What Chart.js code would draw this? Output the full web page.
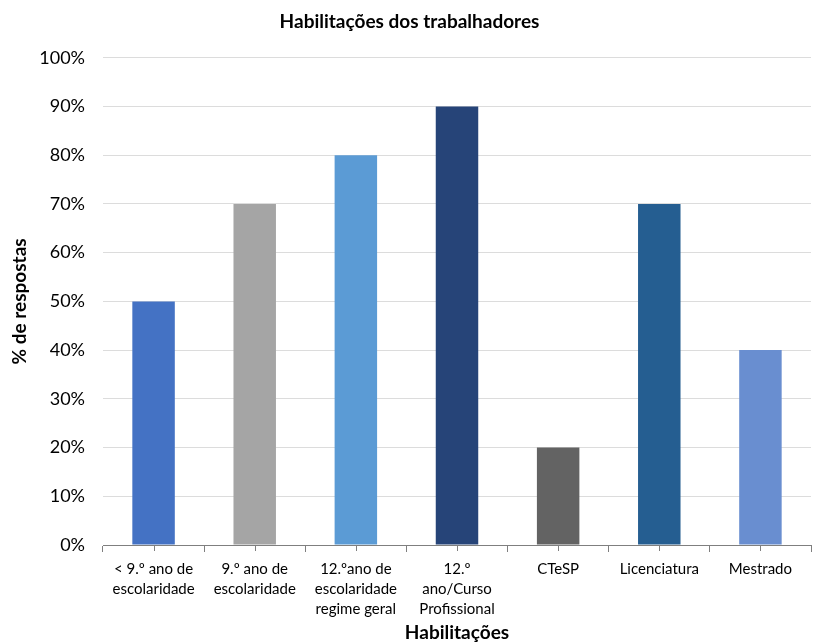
<!DOCTYPE html>
<html>
<head>
<meta charset="utf-8">
<script src="https://cdn.jsdelivr.net/npm/chart.js@4/dist/chart.umd.min.js"></script>
<style>
  html, body { margin: 0; padding: 0; background: #ffffff; }
  #wrap { width: 815px; height: 644px; position: relative; }
</style>
</head>
<body>
<div id="wrap"><canvas id="c" width="815" height="644"></canvas></div>
<script>
// Qualification levels (multi-line labels)
const categories = [
  ["< 9.º ano de", "escolaridade"],
  ["9.º ano de", "escolaridade"],
  ["12.ºano de", "escolaridade", "regime geral"],
  ["12.º", "ano/Curso", "Profissional"],
  ["CTeSP"],
  ["Licenciatura"],
  ["Mestrado"]
];
// Share of answers per level (%)
const values = [50, 70, 80, 90, 20, 70, 40];
const barColors = ["#4472C4", "#A5A5A5", "#5B9BD5", "#264478", "#636363", "#255E91", "#698ED0"];
const yTicks = [0, 10, 20, 30, 40, 50, 60, 70, 80, 90, 100];

const FONT = "Lato, 'Open Sans', 'Liberation Sans', sans-serif";

// Small tick marks under the centre of every category
const centreTicks = {
  id: 'centreTicks',
  afterDraw(chart) {
    const x = chart.scales.x;
    const ctx = chart.ctx;
    ctx.save();
    ctx.strokeStyle = '#7f7f7f';
    ctx.lineWidth = 1;
    for (let i = 0; i < categories.length; i++) {
      const px = Math.round(x.getPixelForValue(i)) + 0.5;
      ctx.beginPath();
      ctx.moveTo(px, x.top);
      ctx.lineTo(px, x.top + 6);
      ctx.stroke();
    }
    ctx.restore();
  }
};

new Chart(document.getElementById('c'), {
  type: 'bar',
  data: {
    labels: categories,
    datasets: [{
      data: values,
      backgroundColor: barColors,
      borderWidth: 0,
      categoryPercentage: 1.0,
      barPercentage: 0.42
    }]
  },
  options: {
    responsive: false,
    animation: false,
    devicePixelRatio: 1,
    layout: { padding: { left: 8, right: 4, top: 0, bottom: 0 } },
    plugins: {
      legend: { display: false },
      tooltip: { enabled: false },
      title: {
        display: true,
        text: 'Habilitações dos trabalhadores',
        color: '#000000',
        font: { family: FONT, size: 19, weight: 'bold' },
        padding: { top: 10, bottom: 25 }
      }
    },
    scales: {
      y: {
        min: 0,
        max: 100,
        afterBuildTicks(scale) { scale.ticks = yTicks.map(v => ({ value: v })); },
        afterFit(scale) { scale.width = 95; },
        ticks: {
          callback: v => v + '%',
          color: '#000000',
          font: { family: FONT, size: 18 },
          padding: 18
        },
        grid: { color: '#dcdcdc', drawTicks: false, lineWidth: 1 },
        border: { display: false },
        title: {
          display: true,
          text: '% de respostas',
          color: '#000000',
          font: { family: FONT, size: 19, weight: 'bold' },
          padding: { top: 0, bottom: 2 }
        }
      },
      x: {
        afterFit(scale) { scale.height = 99; },
        ticks: {
          color: '#000000',
          font: { family: FONT, size: 15, lineHeight: 1.33 },
          padding: 7,
          maxRotation: 0,
          autoSkip: false
        },
        grid: {
          offset: true,
          drawOnChartArea: false,
          drawTicks: true,
          tickLength: 7,
          color: '#7f7f7f'
        },
        border: { display: true, color: '#7f7f7f', width: 1 },
        title: {
          display: true,
          text: 'Habilitações',
          color: '#000000',
          font: { family: FONT, size: 19, weight: 'bold' },
          padding: { top: 2, bottom: 0 }
        }
      }
    }
  },
  plugins: [centreTicks]
});
</script>
</body>
</html>
